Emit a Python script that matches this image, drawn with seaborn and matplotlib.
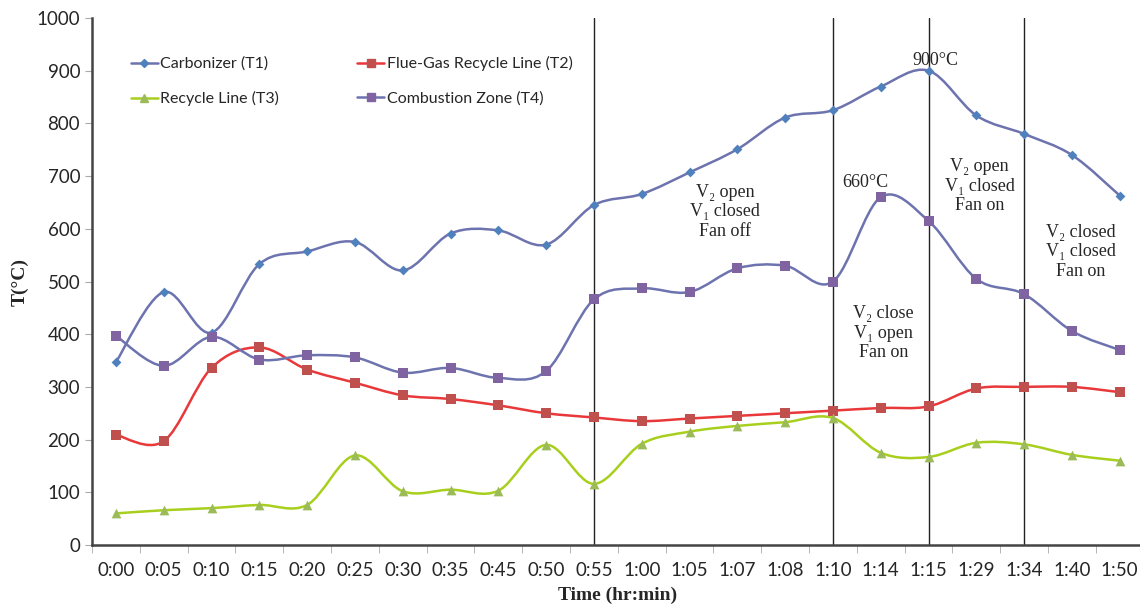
import numpy as np
import pandas as pd
import seaborn as sns
import matplotlib.pyplot as plt
from matplotlib.path import Path
from matplotlib.patches import PathPatch
from matplotlib.lines import Line2D

times = ['0:00', '0:05', '0:10', '0:15', '0:20', '0:25', '0:30', '0:35', '0:45', '0:50', '0:55',
         '1:00', '1:05', '1:07', '1:08', '1:10', '1:14', '1:15', '1:29', '1:34', '1:40', '1:50']
carbonizer = [347, 480, 403, 533, 557, 575, 521, 591, 597, 570, 645,
              666, 707, 751, 811, 825, 870, 900, 815, 780, 740, 663]
flue_gas = [209, 197, 336, 375, 333, 308, 284, 277, 265, 250, 242,
            235, 240, 245, 250, 255, 260, 263, 297, 300, 300, 290]
recycle = [60, 66, 70, 76, 76, 170, 102, 105, 103, 190, 116,
           192, 215, 226, 233, 241, 175, 167, 194, 191, 171, 160]
combustion = [397, 340, 395, 352, 360, 356, 327, 336, 317, 330, 466,
              487, 480, 525, 530, 500, 660, 615, 505, 476, 406, 370]
phase_lines = ['0:55', '1:10', '1:15', '1:34']

series = {
    'Carbonizer (T1)': (carbonizer, '#6d73ae', '#4f81bd', 'D', 5),
    'Flue-Gas Recycle Line (T2)': (flue_gas, '#e8383a', '#c0504d', 's', 7),
    'Recycle Line (T3)': (recycle, '#a8cf1e', '#9bbb59', '^', 7),
    'Combustion Zone (T4)': (combustion, '#6d73ae', '#8064a2', 's', 7),
}

df = pd.DataFrame({'Time': times, 'T1': carbonizer, 'T2': flue_gas,
                   'T3': recycle, 'T4': combustion})
df['idx'] = np.arange(len(times))

sns.set_style('white')
plt.rcParams['font.family'] = ['Lato', 'DejaVu Sans']
serif = ['Liberation Serif', 'DejaVu Serif']


def smooth_path(x, y):
    # Bezier segments through the points, like a spreadsheet "smoothed line".
    pts = np.column_stack([x, y]).astype(float)
    ext = np.vstack([pts[0], pts, pts[-1]])
    verts, codes = [pts[0]], [Path.MOVETO]
    for i in range(len(pts) - 1):
        p0, p1, p2, p3 = ext[i], ext[i + 1], ext[i + 2], ext[i + 3]
        verts += [p1 + (p2 - p0) / 6, p2 - (p3 - p1) / 6, p2]
        codes += [Path.CURVE4] * 3
    return Path(verts, codes)


fig = plt.figure(figsize=(11.4, 6.08), dpi=100)
ax = fig.add_axes([0.0807, 0.1036, 0.9225, 0.8668])

cols = ['T1', 'T2', 'T3', 'T4']
handles = {}
for col, (label, (vals, lc, mc, mk, ms)) in zip(cols, series.items()):
    ax.add_patch(PathPatch(smooth_path(df['idx'], df[col]), facecolor='none',
                           edgecolor=lc, lw=1.8, zorder=2))
    sns.scatterplot(data=df, x='idx', y=col, marker=mk, s=ms ** 2, color=mc,
                    edgecolor=mc, linewidth=0, ax=ax, zorder=3)
    handles[col] = Line2D([], [], color=lc, lw=1.8, marker=mk, markersize=ms - 1,
                          markerfacecolor=mc, markeredgecolor=mc, label=label)

for t in phase_lines:
    ax.plot([times.index(t)] * 2, [0, 1000], color='#222222', lw=1, zorder=1)

notes = [
    (12.75, 632, 'V₂ open\nV₁ closed\nFan off'),
    (15.68, 687, '660°C'),
    (17.15, 920, '900°C'),
    (16.06, 402, 'V₂ close\nV₁ open\nFan on'),
    (18.07, 681, 'V₂ open\nV₁ closed\nFan on'),
    (20.18, 556, 'V₂ closed\nV₁ closed\nFan on'),
]
for x, y, s in notes:
    ax.text(x, y, s, ha='center', va='center', fontsize=13, family=serif,
            linespacing=1.2, zorder=4)

ax.set_xlim(-0.5, len(times) - 0.5)
ax.set_ylim(0, 1000)
ax.set_yticks(range(0, 1001, 100))
ax.set_xticks(range(len(times)))
ax.set_xticklabels(times)
ax.set_xticks(np.arange(-0.5, len(times), 1), minor=True)
ax.tick_params(axis='x', which='major', length=0, labelsize=13.5, pad=12)
ax.tick_params(axis='x', which='minor', length=6, color='#aaaaaa', bottom=True)
ax.tick_params(axis='y', length=5, color='#aaaaaa', labelsize=13.5, left=True)

for side in ['top', 'right']:
    ax.spines[side].set_visible(False)
for side in ['left', 'bottom']:
    ax.spines[side].set_color('#444444')
    ax.spines[side].set_linewidth(1.8)

ax.set_xlabel('Time (hr:min)', fontsize=14, fontweight='bold', family=serif, labelpad=6)
ax.set_ylabel('T(°C)', fontsize=14, fontweight='bold', family=serif, labelpad=6)

# two rows: T1, T2 on top, T3, T4 below (legend fills column by column)
ax.legend(handles=[handles[c] for c in ['T1', 'T3', 'T2', 'T4']], ncol=2,
          frameon=False, fontsize=11.5, loc='upper left',
          bbox_to_anchor=(0.023, 0.955), handlelength=1.7, handletextpad=0.15,
          columnspacing=4.9, labelspacing=1.25)

fig.savefig('out.png', dpi=100)
